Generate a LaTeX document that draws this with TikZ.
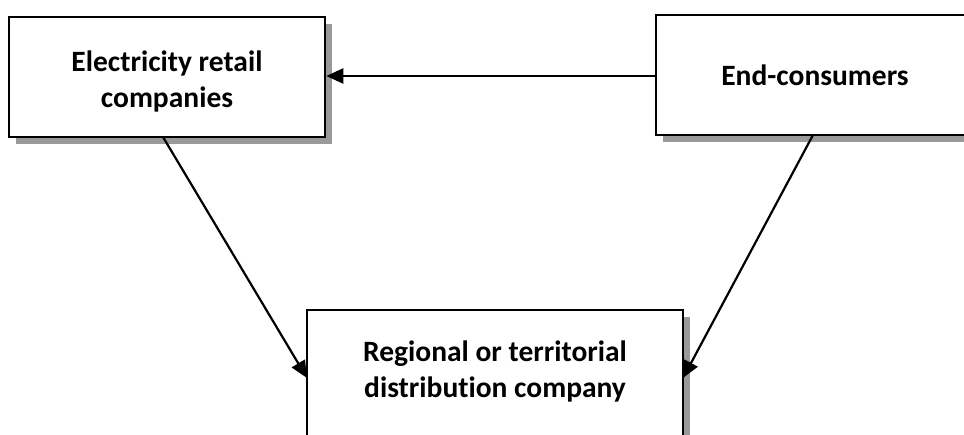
\documentclass[tikz,border=0pt]{standalone}
\usepackage{fontspec}
\setmainfont{Carlito}[Ligatures={NoCommon,NoContextual}]
\usetikzlibrary{arrows.meta,shadows}
\begin{document}
\begin{tikzpicture}[x=1pt,y=-1pt,
  box/.style={draw=black, line width=2.6pt, fill=white, inner sep=0pt,
    drop shadow={shadow xshift=7pt, shadow yshift=-7pt, fill=black!40, opacity=1}},
  label/.style={font=\bfseries\fontsize{29.5}{36}\selectfont, align=center, anchor=base, inner sep=0pt},
  flow/.style={line width=2.2pt, -{Triangle[length=17pt,width=15pt]}}]
  \useasboundingbox (0,0) rectangle (964,435);
  \clip (0,0) rectangle (964,435);
  % boxes
  \node[box, minimum width=316pt, minimum height=120pt] (retail) at (167,77) {};
  \node[box, minimum width=330pt, minimum height=120pt] (consumers) at (821,75) {};
  \node[box, minimum width=376pt, minimum height=150pt] (distribution) at (495,385) {};
  % texts (anchored at the baseline of their last line)
  \node[label] (retailtext) at (167,108) {Electricity retail\\companies};
  \node[label] (consumerstext) at (815,86) {End-consumers};
  \node[label] (distributiontext) at (495,398) {Regional or territorial\\distribution company};
  % connectors
  \coordinate (a) at (consumers.west |- 0,76);
  \coordinate (b) at (retail.east |- 0,76);
  \draw[flow] (a) -- (b);
  \coordinate (c) at (163,137);
  \coordinate (d) at (307,378);
  \draw[flow] (c) -- (d);
  \coordinate (e) at (813,135);
  \coordinate (f) at (683,378);
  \draw[flow] (e) -- (f);
\end{tikzpicture}
\end{document}
